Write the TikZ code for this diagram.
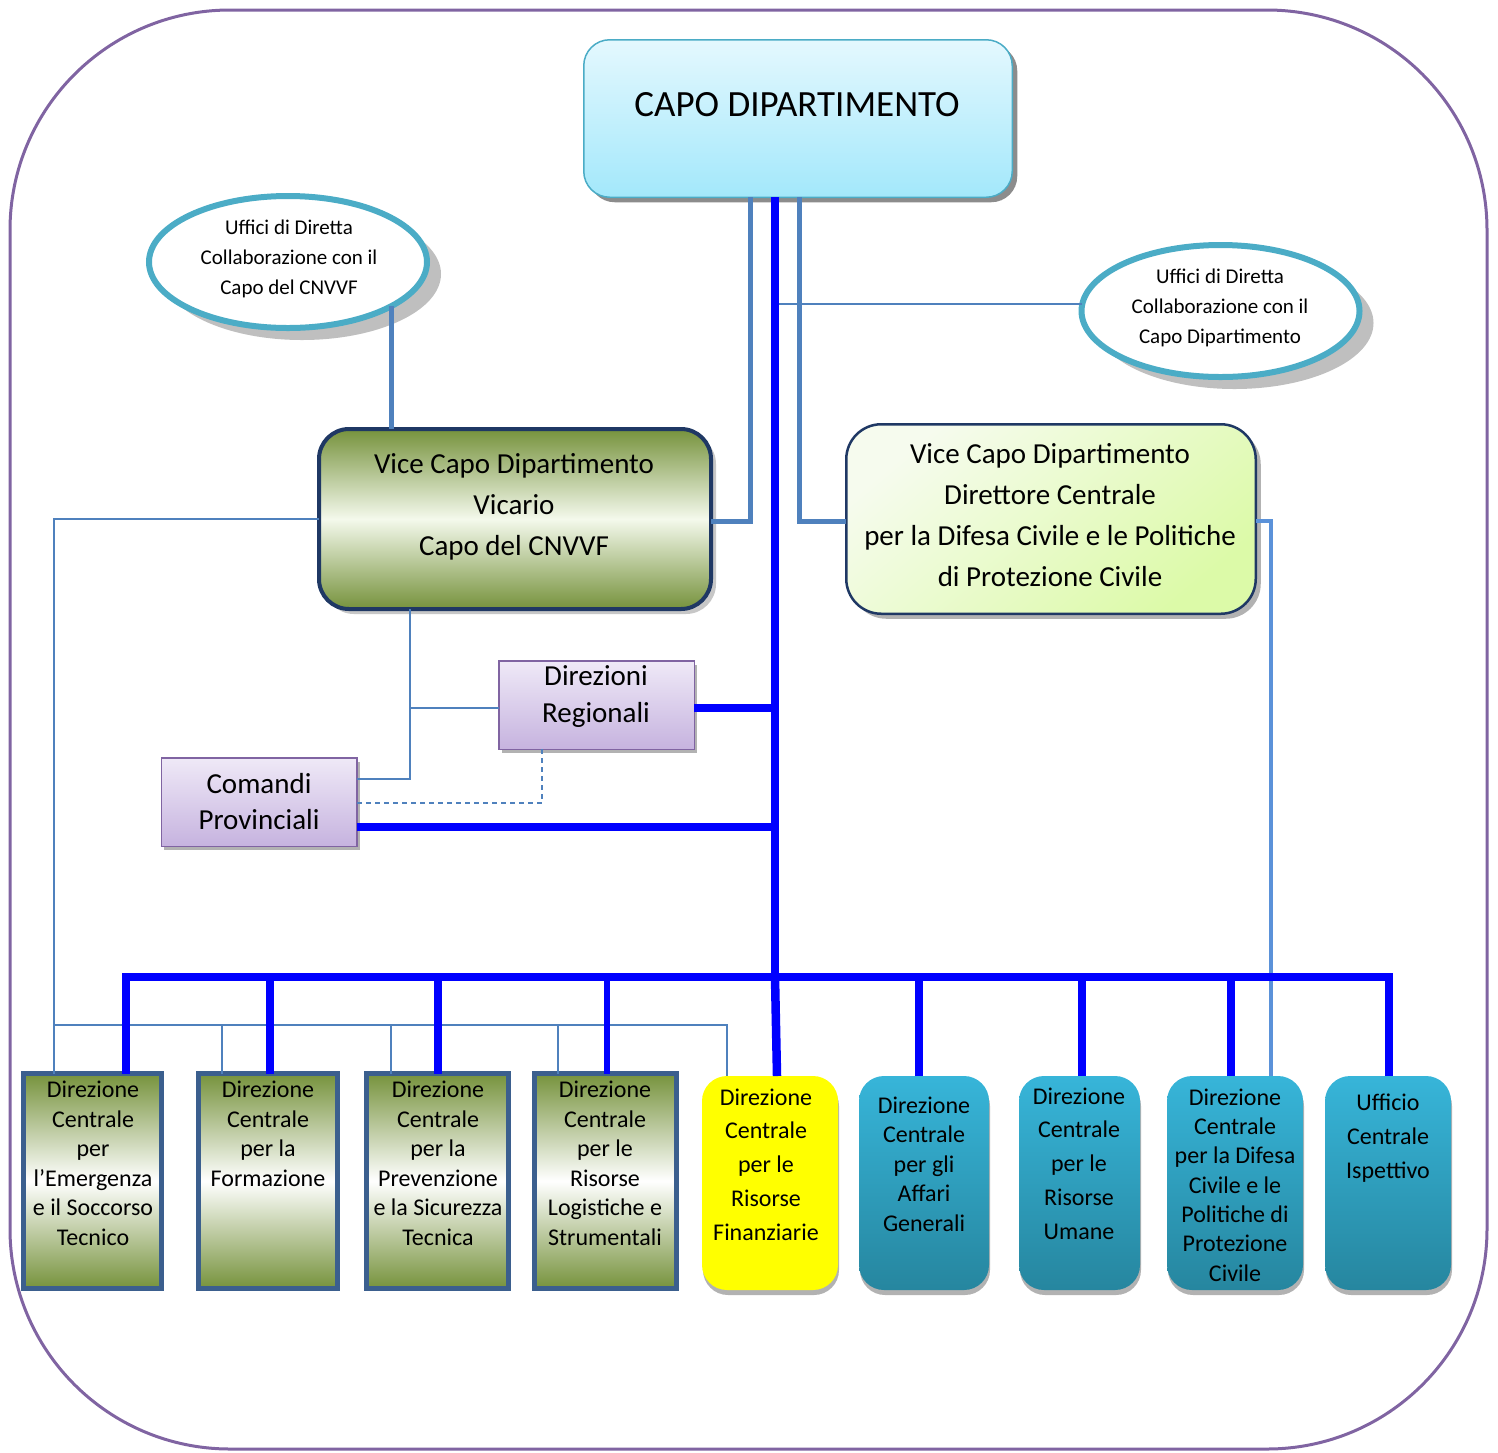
\documentclass[tikz,border=0pt]{standalone}
\usepackage{fontspec}
\setmainfont{Carlito}
\usetikzlibrary{shapes.geometric,shadows}
\definecolor{frameC}{HTML}{8064A2}
\definecolor{ringC}{HTML}{4BACC6}
\definecolor{navyC}{HTML}{1F3864}
\definecolor{boxBorderC}{HTML}{3B5F8E}
\definecolor{oliveC}{HTML}{76923C}
\definecolor{oliveLightC}{HTML}{F4F9EC}
\definecolor{capoTopC}{HTML}{E4F8FE}
\definecolor{capoBotC}{HTML}{A3E8FB}
\definecolor{dirTopC}{HTML}{F6FBEE}
\definecolor{dirBotC}{HTML}{DCFAA8}
\definecolor{purpTopC}{HTML}{EFE9F7}
\definecolor{purpBotC}{HTML}{C6B3DF}
\definecolor{tealTopC}{HTML}{37B5D9}
\definecolor{tealBotC}{HTML}{26869F}
\definecolor{medC}{HTML}{4F81BD}
\definecolor{lbC}{HTML}{5B92D9}
\definecolor{busC}{HTML}{0000FF}
\definecolor{yelC}{HTML}{FFFF00}
\begin{document}
\begin{tikzpicture}[x=1pt,y=-1pt,
  every node/.style={inner sep=0pt,outer sep=0pt},
  txt/.style={align=center,text=black},
  ftop/.style={font=\fontsize{37}{44}\selectfont},
  fell/.style={font=\fontsize{21}{30}\selectfont},
  fmid/.style={font=\fontsize{29}{41}\selectfont},
  fsmall/.style={font=\fontsize{24}{29.5}\selectfont},
  fsmallw/.style={font=\fontsize{24}{33.8}\selectfont},
  capobox/.style={draw=ringC,line width=1.5pt,rounded corners=26pt,
    top color=capoTopC,bottom color=capoBotC,
    drop shadow={shadow xshift=5pt,shadow yshift=-5pt,fill=black!45,opacity=1}},
  ellbox/.style={ellipse,draw=ringC,line width=6pt,fill=white,
    minimum width=278pt,minimum height=132pt,
    drop shadow={shadow xshift=14pt,shadow yshift=-12pt,fill=black!25,opacity=1}},
  vicbox/.style={draw=navyC,line width=4pt,rounded corners=30pt,
    top color=oliveC,bottom color=oliveC,middle color=oliveLightC,
    drop shadow={shadow xshift=5pt,shadow yshift=-5pt,fill=black!22,opacity=1}},
  dirbox/.style={draw=navyC,line width=2.5pt,rounded corners=35pt,
    left color=dirTopC,right color=dirBotC,shading angle=40,
    drop shadow={shadow xshift=5pt,shadow yshift=-5pt,fill=black!30,opacity=1}},
  purpbox/.style={draw=frameC,line width=1.5pt,
    top color=purpTopC,bottom color=purpBotC,
    minimum width=195.5pt,minimum height=88.5pt,
    drop shadow={shadow xshift=3pt,shadow yshift=-4pt,fill=black!30,opacity=1}},
  olivebox/.style={draw=boxBorderC,line width=5pt,
    top color=oliveC,bottom color=oliveC,middle color=white,
    minimum height=215pt},
  roundbox/.style={rounded corners=25pt,minimum height=214pt,
    drop shadow={shadow xshift=1pt,shadow yshift=-5pt,fill=black!30,opacity=1}},
  yellowbox/.style={roundbox,fill=yelC},
  tealbox/.style={roundbox,top color=tealTopC,bottom color=tealBotC},
  thickb/.style={draw=busC,line width=8.5pt,line join=miter},
  medl/.style={draw=medC,line width=5pt},
  thinl/.style={draw=medC,line width=1.5pt},
  lbl/.style={draw=lbC,line width=4pt},
  ring2/.style={draw=medC,line width=2pt}
]
\useasboundingbox (0,0) rectangle (1498,1452);
\draw[frameC,line width=3pt,rounded corners=220pt] (10,10) rectangle (1487,1449);

% boxes
\node[capobox,minimum width=428.5pt,minimum height=157.5pt] (capo) at (798,118.5) {};
\node[ellbox] (ellL) at (288,262) {};
\node[ellbox] (ellR) at (1220.5,311) {};
\node[vicbox,minimum width=392pt,minimum height=180pt] (vic) at (515,519) {};
\node[dirbox,minimum width=409.5pt,minimum height=189.5pt] (dir) at (1051,519) {};
\node[purpbox] (dr) at (596.5,705) {};
\node[purpbox] (com) at (259,802) {};
\node[olivebox,minimum width=138pt] (b1) at (92.5,1181) {};
\node[olivebox,minimum width=139pt] (b2) at (268,1181) {};
\node[olivebox,minimum width=142pt] (b3) at (437.5,1181) {};
\node[olivebox,minimum width=142pt] (b4) at (605.5,1181) {};
\node[yellowbox,minimum width=136pt] (b5) at (770,1183) {};
\node[tealbox,minimum width=130pt] (b6) at (924,1183) {};
\node[tealbox,minimum width=121pt] (b7) at (1079.5,1183) {};
\node[tealbox,minimum width=136pt] (b8) at (1235,1183) {};
\node[tealbox,minimum width=126pt] (b9) at (1388,1183) {};

% texts
\node[txt,ftop] (tcapo) at (797,105) {CAPO DIPARTIMENTO};
\node[txt,fell] (tellL) at (289,259) {Uffici di Diretta\\Collaborazione con il\\Capo del CNVVF};
\node[txt,fell] (tellR) at (1220,308) {Uffici di Diretta\\Collaborazione con il\\Capo Dipartimento};
\node[txt,fmid] (tvic) at (514,507) {Vice Capo Dipartimento\\Vicario\\Capo del CNVVF};
\node[txt,fmid] (tdir) at (1050,515) {Vice Capo Dipartimento\\Direttore Centrale\\per la Difesa Civile e le Politiche\\di Protezione Civile};
\node[txt,font=\fontsize{29}{37}\selectfont] (tdr) at (596,696.5) {Direzioni\\Regionali};
\node[txt,font=\fontsize{29}{36}\selectfont] (tcom) at (259,802) {Comandi\\Provinciali};
\node[txt,fsmall] (tb1) at (93,1163.5) {Direzione\\Centrale\\per\\l’Emergenza\\e il Soccorso\\Tecnico};
\node[txt,fsmall] (tb2) at (268,1134) {Direzione\\Centrale\\per la\\Formazione};
\node[txt,fsmall] (tb3) at (438,1163.5) {Direzione\\Centrale\\per la\\Prevenzione\\e la Sicurezza\\Tecnica};
\node[txt,fsmall] (tb4) at (605,1163.5) {Direzione\\Centrale\\per le\\Risorse\\Logistiche e\\Strumentali};
\node[txt,fsmallw] (tb5) at (766,1164.5) {Direzione\\Centrale\\per le\\Risorse\\Finanziarie};
\node[txt,fsmall] (tb6) at (924,1164) {Direzione\\Centrale\\per gli\\Affari\\Generali};
\node[txt,fsmallw] (tb7) at (1079,1163.5) {Direzione\\Centrale\\per le\\Risorse\\Umane};
\node[txt,font=\fontsize{24}{29.3}\selectfont] (tb8) at (1235,1185) {Direzione\\Centrale\\per la Difesa\\Civile e le\\Politiche di\\Protezione\\Civile};
\node[txt,fsmallw] (tb9) at (1388,1138) {Ufficio\\Centrale\\Ispettivo};

% helper coordinates
\coordinate (tx) at (775,977);
\coordinate (busL) at (126,977);
\coordinate (busR) at (1389,977);
\coordinate (lx) at (54,1025);
\coordinate (yx) at (727,1025);
\coordinate (vx) at (410,700);

% thin connectors
\draw[thinl] (vic.west) -| (b1.north -| lx);
\draw[thinl] (lx) -- (yx) -- (b5.north -| yx);
\draw[thinl] ([xshift=-46pt]b2.north) -- ([xshift=-46pt]b2.north |- lx);
\draw[thinl] ([xshift=-46.5pt]b3.north) -- ([xshift=-46.5pt]b3.north |- lx);
\draw[thinl] ([xshift=-47.5pt]b4.north) -- ([xshift=-47.5pt]b4.north |- lx);
\draw[thinl] (vic.south -| vx) |- ([yshift=23pt]com.east);
\draw[thinl] ([yshift=-3pt]dr.west) -- ([yshift=-3pt]dr.west -| vx);
\draw[thinl,dashed,dash pattern=on 5pt off 4pt] ([xshift=-54.5pt]dr.south) |- ([yshift=-1pt]com.east);

% medium connectors
\draw[medl] ([xshift=-25pt]capo.south -| tx) |- ([yshift=-2pt]vic.east);
\draw[medl] ([xshift=24pt]capo.south -| tx) |- ([yshift=-2pt]dir.west);
\draw[medl] (ellL.-23.7) -- (ellL.-23.7 |- vic.north);
\draw[ring2] (ellR.177) -- (ellR.177 -| tx);
\draw[lbl] ([yshift=-2pt]dir.east) -| ([xshift=36pt]b8.north);

% thick connectors
\draw[thickb] (capo.south -| tx) -- (tx);
\draw[thickb] (b1.north -| busL) -- (busL) -- (busR) -- (b9.north -| busR);
\draw[thickb] ([xshift=2pt]b2.north) -- ([xshift=2pt]b2.north |- busL);
\draw[thickb] ([xshift=0.5pt]b3.north) -- ([xshift=0.5pt]b3.north |- busL);
\draw[thickb,line width=6pt] ([xshift=1.5pt]b4.north) -- ([xshift=1.5pt]b4.north |- busL);
\draw[thickb] (tx) -- ([xshift=7pt]b5.north);
\draw[thickb] ([xshift=-5pt]b6.north) -- ([xshift=-5pt]b6.north |- busL);
\draw[thickb] ([xshift=2.5pt]b7.north) -- ([xshift=2.5pt]b7.north |- busL);
\draw[thickb] ([xshift=-4pt]b8.north) -- ([xshift=-4pt]b8.north |- busL);
\draw[thickb] ([yshift=-3pt]dr.east) -- ([yshift=-3pt]dr.east -| tx);
\draw[thickb] ([yshift=-25pt]com.east) -- ([yshift=-25pt]com.east -| tx);
\end{tikzpicture}
\end{document}
